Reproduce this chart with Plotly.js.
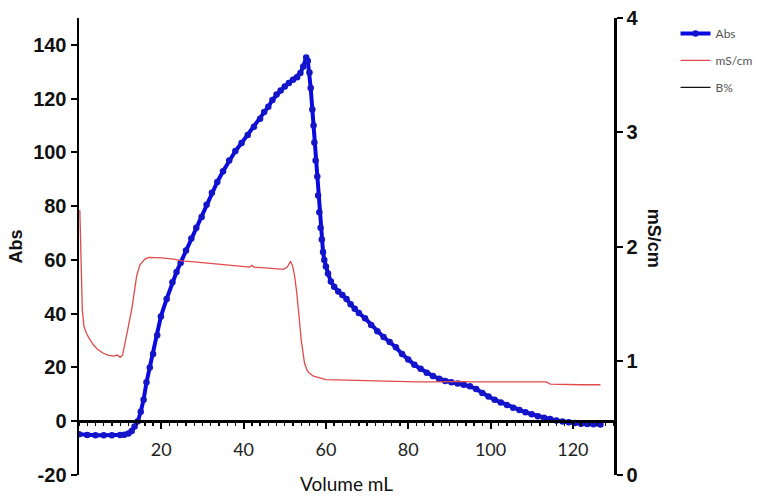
<!DOCTYPE html>
<html>
<head>
<meta charset="utf-8">
<script src="https://cdn.plot.ly/plotly-3.0.1.min.js"></script>
<style>html,body{margin:0;padding:0;background:#fff;}#chart{width:769px;height:496px;}</style>
</head>
<body>
<div id="chart"></div>
<script>
// Abs trace (left axis)
var volAbs = [0,2,4,6,8,10,11,12,12.8,13.5,14.3,15,15.7,16.4,17.2,18,19,19.9,21.3,22.7,23.7,24.7,26,27.3,28.5,29.8,31,32.3,33.6,35,36.5,38,39.5,41,42.5,44,45,46,47,48,49,50,51,52,53,53.8,54.5,55.2,55.6,56,56.3,56.7,57,57.2,57.5,57.9,58.1,58.4,58.7,59,59.3,59.6,60,60.5,61.2,62,63,64,65,66,67,68,69.5,71,72.5,74,75.5,77,78.5,80,81.5,83,84.5,86,87.5,89,90.5,92,93.5,95,96.5,98,99.5,101,102.5,104,105.5,107,108.5,110,111.5,113,114.5,116,117.5,119,120.5,122,123.5,125,126.7];
var absVals = [-4.8,-5.1,-5.2,-5.2,-5.2,-5.1,-5.0,-4.6,-3.6,-2.0,0,3.5,8,14.5,20,25,32,39,45.5,51.7,55.5,59,63.5,68,72,76,80.5,85,89,93,97,100.5,103.5,106.5,109.5,112.5,115,117,119.5,121.5,123,124.5,125.8,127,128,129.5,132,135.3,134,129.7,124,116,110,103.7,97,91,84,77.7,72,67.6,63,60,57.6,55,52,50,48.3,47,45.5,43.5,41.8,40.3,38.3,35.8,33.5,31.3,29.5,27.5,25,23,21,19.5,18,16.8,15.8,15,14.5,14,13.6,13,12,10.5,9.2,8,7,6,5,4.2,3.3,2.6,1.9,1.3,0.8,0.3,-0.1,-0.4,-0.7,-0.9,-1.0,-1.1,-1.2];

// Conductivity trace (right axis)
var volCond = [0.2,0.5,0.8,1.2,1.8,2.4,3.5,4.5,5.7,7,8.3,9.3,10,10.6,11.2,12,12.9,13.5,14,14.8,16,17,18.3,20,23,25,28,31,34,37,40,41.5,42,42.5,46,49.7,50.6,51.4,51.9,52.4,52.9,53.3,53.7,54,54.4,54.8,55.4,56,57,58.4,60,65,70,76,82,88,92,96,100,105,110,113.5,114.5,118,122,126.7];
var condVals = [2.32,1.9,1.45,1.30,1.24,1.20,1.14,1.10,1.07,1.05,1.04,1.05,1.03,1.05,1.15,1.30,1.47,1.62,1.74,1.84,1.89,1.905,1.905,1.90,1.89,1.875,1.865,1.855,1.845,1.835,1.825,1.82,1.835,1.82,1.81,1.80,1.82,1.87,1.83,1.74,1.60,1.47,1.30,1.18,1.06,0.98,0.92,0.89,0.865,0.85,0.835,0.83,0.825,0.82,0.815,0.815,0.82,0.815,0.815,0.815,0.815,0.815,0.795,0.79,0.79,0.79];

// B% trace
var volB = [0,126.7];
var bVals = [0,0];

var xTicks = [20,40,60,80,100,120];
var yTickVals = [-20,0,20,40,60,80,100,120,140];
var yTickText = ['-20','0','20','40','60','80','100','120','140'];
var xRange = [0,130];
var yRange = [-20,150];
var y2Range = [0,4];

var boldTick = {family:'Liberation Sans, Arial', size:20, color:'#111', weight:'bold'};

var traces = [
  {x:volAbs, y:absVals, name:'Abs', type:'scatter', mode:'lines+markers',
   line:{color:'#0a0ae0', width:4}, marker:{color:'#1414c8', size:6.5},
   legendgroup:'a', yaxis:'y'},
  {x:volCond, y:condVals, name:'mS/cm', type:'scatter', mode:'lines',
   line:{color:'#e04a4a', width:1.3}, legendgroup:'b', yaxis:'y2'},
  {x:volB, y:bVals, name:'B%', type:'scatter', mode:'lines',
   line:{color:'#111', width:1.3}, legendgroup:'c', yaxis:'y'}
];

var layout = {
  width:769, height:496,
  margin:{l:79, r:146, t:18, b:21},
  paper_bgcolor:'#fff', plot_bgcolor:'#fff',
  showlegend:true,
  legend:{x:1.115, xanchor:'left', y:0.998, yanchor:'top', traceorder:'grouped', tracegroupgap:8,
          font:{family:'Lato, Open Sans, sans-serif', size:12, color:'#555'}, bgcolor:'rgba(0,0,0,0)'},
  xaxis:{range:xRange, anchor:'free', position:(0-yRange[0])/(yRange[1]-yRange[0]),
         showline:true, linecolor:'#000', linewidth:2.5, showgrid:false, zeroline:false,
         ticks:'outside', ticklen:6, tickwidth:2, tickcolor:'#000',
         tickmode:'array', tickvals:xTicks, ticklabelstandoff:6,
         minor:{tickmode:'linear', tick0:0, dtick:2, ticks:'outside', ticklen:3, tickwidth:1.3, tickcolor:'#000'},
         tickfont:{family:'Lato, Open Sans, sans-serif', size:18, color:'#222'},
         title:{text:'Volume mL', font:{family:'Lato, Open Sans, sans-serif', size:19, color:'#111'}, standoff:18}},
  yaxis:{range:yRange, tickmode:'array', tickvals:yTickVals, ticktext:yTickText,
         showline:true, linecolor:'#000', linewidth:2.5,
         showgrid:false, zeroline:false, ticks:'outside', ticklen:6, tickwidth:2, tickcolor:'#000',
         tickfont:boldTick,
         title:{text:'Abs', font:{family:'Liberation Sans, Arial', size:18, color:'#111', weight:'bold'}, standoff:6}},
  yaxis2:{range:y2Range, overlaying:'y', side:'right', anchor:'x', tick0:0, dtick:1,
          showline:true, linecolor:'#000', linewidth:2.5, showgrid:false, zeroline:false,
          ticks:'outside', ticklen:6, tickwidth:2, tickcolor:'#000', tickfont:boldTick},
  annotations:[{text:'mS/cm', xref:'paper', yref:'paper', x:(664-79)/544, y:(475-238)/457,
                showarrow:false, textangle:90, xanchor:'center', yanchor:'middle',
                font:{family:'Liberation Sans, Arial', size:18, color:'#111', weight:'bold'}}]
};

Plotly.newPlot('chart', traces, layout, {displayModeBar:false, staticPlot:true});
</script>
</body>
</html>
